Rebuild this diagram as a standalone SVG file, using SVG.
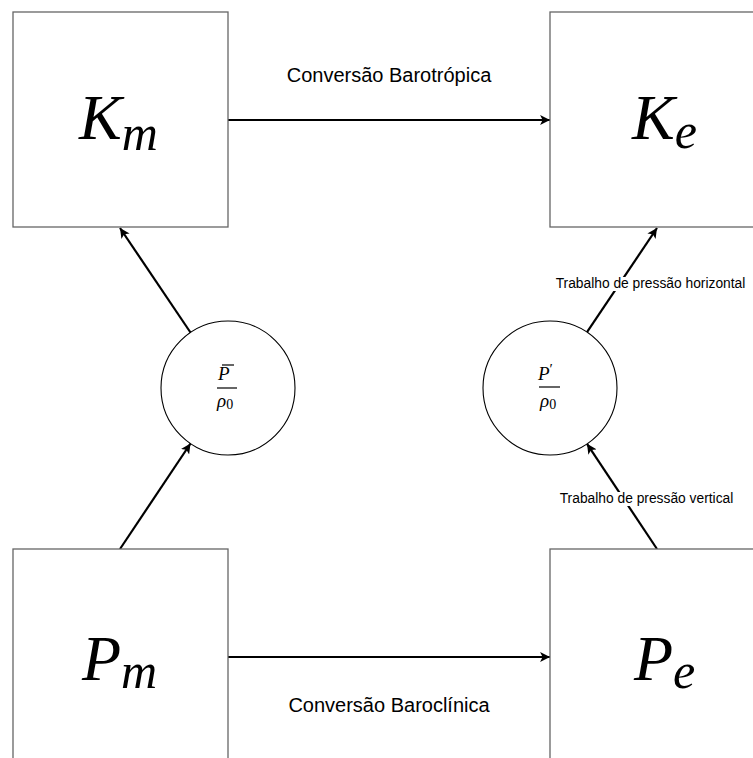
<svg xmlns="http://www.w3.org/2000/svg" width="753" height="758" viewBox="0 0 753 758">
<style>
.box{fill:#fff;stroke:#666;stroke-width:1.3}
.circ{fill:#fff;stroke:#000;stroke-width:1.1}
.conn{stroke:#000;stroke-width:2.2;fill:none;marker-end:url(#ah)}
.math{font-family:"Liberation Serif",serif;font-style:italic;fill:#000}
.up{font-family:"Liberation Serif",serif;fill:#000}
.lbl{font-family:"Liberation Sans",Arial,sans-serif;fill:#000;text-anchor:middle}
.frac{stroke:#000;stroke-width:1.2}
</style>
<defs>
<marker id="ah" viewBox="0 0 10 10" refX="10" refY="5" markerWidth="4.5" markerHeight="4.5" orient="auto" markerUnits="strokeWidth">
<path d="M0,0 L10,5 L0,10 L2.5,5 Z" fill="#000"/>
</marker>
</defs>
<rect width="753" height="758" fill="#fff"/>
<g id="connectors">
<line class="conn" x1="228" y1="120" x2="550" y2="120"/>
<line class="conn" x1="228" y1="657" x2="550" y2="657"/>
<line class="conn" x1="120" y1="549" x2="190.5" y2="443.5"/>
<line class="conn" x1="190.5" y1="332.5" x2="120" y2="228"/>
<line class="conn" x1="657" y1="549" x2="587" y2="443.8"/>
<line class="conn" x1="587" y1="332.2" x2="657" y2="228"/>
<rect x="552" y="277" width="198" height="14" fill="#fff"/>
<rect x="557" y="492" width="180" height="14" fill="#fff"/>
<text class="lbl" x="650.5" y="288" font-size="13.8">Trabalho de pressão horizontal</text>
<text class="lbl" x="646.5" y="503" font-size="13.8">Trabalho de pressão vertical</text>
<text class="lbl" x="389" y="82" font-size="20">Conversão Barotrópica</text>
<text class="lbl" x="389" y="712" font-size="20">Conversão Baroclínica</text>
</g>
<g id="Km">
<rect class="box" x="13" y="12" width="215" height="215"/>
<text class="math" x="79" y="139" font-size="64">K<tspan font-size="50" dy="11">m</tspan></text>
</g>
<g id="Ke">
<rect class="box" x="550" y="12" width="215" height="215"/>
<text class="math" x="632" y="139" font-size="64">K<tspan font-size="50" dy="9">e</tspan></text>
</g>
<g id="Pm">
<rect class="box" x="13" y="549" width="215" height="215"/>
<text class="math" x="82" y="680" font-size="64">P<tspan font-size="50" dy="8">m</tspan></text>
</g>
<g id="Pe">
<rect class="box" x="550" y="549" width="215" height="215"/>
<text class="math" x="634" y="680" font-size="64">P<tspan font-size="50" dy="8">e</tspan></text>
</g>
<g id="Pbar">
<circle class="circ" cx="228" cy="388" r="67"/>
<text class="math" x="218" y="380" font-size="19">P</text>
<line class="frac" x1="222" y1="365" x2="234" y2="365"/>
<line class="frac" x1="217" y1="388" x2="237" y2="388"/>
<text class="math" x="217" y="407" font-size="19">ρ<tspan class="up" font-style="normal" font-size="14" dy="2">0</tspan></text>
</g>
<g id="Pprime">
<circle class="circ" cx="550" cy="388" r="67"/>
<text class="math" x="538" y="380" font-size="19">P<tspan font-style="normal" font-size="15" dy="-6">′</tspan></text>
<line class="frac" x1="539" y1="387" x2="560" y2="387"/>
<text class="math" x="540" y="407" font-size="19">ρ<tspan class="up" font-style="normal" font-size="14" dy="2">0</tspan></text>
</g>
</svg>
